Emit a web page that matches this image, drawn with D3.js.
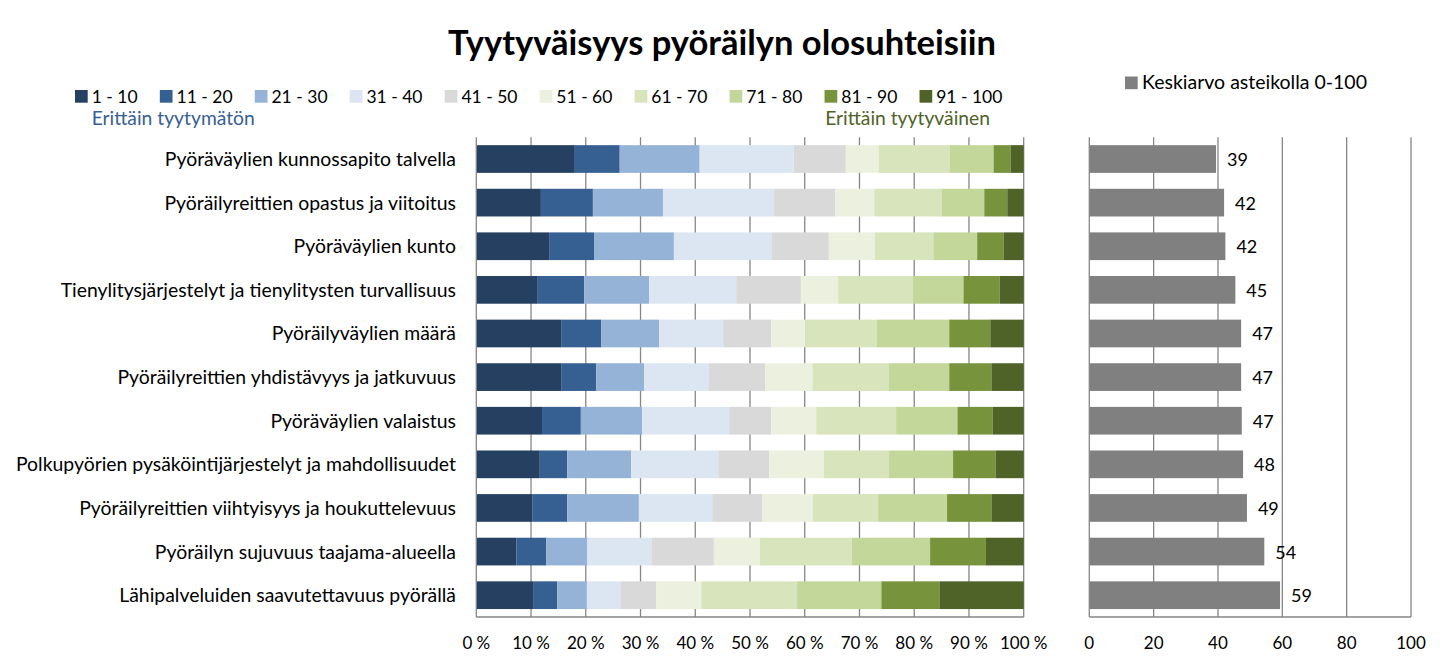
<!DOCTYPE html>
<html><head><meta charset="utf-8">
<script src="https://cdn.jsdelivr.net/npm/d3@7/dist/d3.min.js"></script>
<style>body{margin:0;background:#fff}svg{display:block}text{font-family:Lato,"Open Sans",sans-serif}</style>
</head><body><svg id="c" width="1440" height="670"></svg>
<script>
const categories = [
 "Pyöräväylien kunnossapito talvella",
 "Pyöräilyreittien opastus ja viitoitus",
 "Pyöräväylien kunto",
 "Tienylitysjärjestelyt ja tienylitysten turvallisuus",
 "Pyöräilyväylien määrä",
 "Pyöräilyreittien yhdistävyys ja jatkuvuus",
 "Pyöräväylien valaistus",
 "Polkupyörien pysäköintijärjestelyt ja mahdollisuudet",
 "Pyöräilyreittien viihtyisyys ja houkuttelevuus",
 "Pyöräilyn sujuvuus taajama-alueella",
 "Lähipalveluiden saavutettavuus pyörällä"
];
const seriesNames = ["1 - 10","11 - 20","21 - 30","31 - 40","41 - 50","51 - 60","61 - 70","71 - 80","81 - 90","91 - 100"];
const seriesColors = ["#254061","#366092","#95B3D7","#DCE6F2","#D9D9D9","#EBF1DE","#D8E4BC","#C4D79B","#77933C","#4F6228"];
// percent shares per category (rows) for each score band (columns)
const shares = [
 [18.0, 8.2, 14.6, 17.2, 9.5, 6.0, 13.0, 8.0, 3.1, 2.4],
 [11.8, 9.5, 12.8, 20.3, 11.2, 7.1, 12.3, 7.8, 4.2, 3.0],
 [13.3, 8.2, 14.6, 17.9, 10.4, 8.4, 10.7, 8.0, 4.8, 3.7],
 [11.1, 8.6, 11.9, 15.9, 11.8, 6.8, 13.7, 9.2, 6.6, 4.4],
 [15.5, 7.3, 10.6, 11.7, 8.8, 6.2, 13.0, 13.3, 7.5, 6.1],
 [15.5, 6.4, 8.8, 11.8, 10.3, 8.6, 13.9, 11.1, 7.7, 5.9],
 [12.0, 7.1, 11.2, 15.9, 7.7, 8.2, 14.6, 11.2, 6.4, 5.7],
 [11.6, 5.0, 11.7, 15.9, 9.3, 10.0, 11.9, 11.7, 7.8, 5.1],
 [10.2, 6.4, 13.1, 13.4, 9.1, 9.3, 11.9, 12.6, 8.1, 5.9],
 [7.3, 5.5, 7.5, 11.7, 11.4, 8.4, 16.8, 14.3, 10.2, 6.9],
 [10.5, 4.3, 5.4, 6.1, 6.6, 8.2, 17.5, 15.4, 10.6, 15.4]
];
const means = [39.4, 41.9, 42.3, 45.4, 47.2, 47.2, 47.4, 47.8, 49.0, 54.4, 59.3];
const pctTicks = [0,10,20,30,40,50,60,70,80,90,100];
const meanTicks = [0,20,40,60,80,100];
const titleText = "Tyytyväisyys pyöräilyn olosuhteisiin";
const meanLegend = "Keskiarvo asteikolla 0-100";
const lowLabel = "Erittäin tyytymätön";
const highLabel = "Erittäin tyytyväinen";

const svg = d3.select("#c");
const plotTop = 137.2, plotBottom = 617;
const x = d3.scaleLinear().domain([0,100]).range([476.3,1023.7]);
const x2 = d3.scaleLinear().domain([0,100]).range([1089.3,1411]);
const y = d3.scaleBand().domain(categories).range([plotTop,plotBottom]).paddingInner(0.365).paddingOuter(0.1825);
const grid = "#868686";

// title
svg.append("text").attr("x",722).attr("y",55).attr("text-anchor","middle")
 .attr("font-size",34.5).attr("font-weight","bold").attr("fill","#000").text(titleText);

// gridlines left
svg.append("g").selectAll("line").data(pctTicks.slice(1)).join("line")
 .attr("x1",d=>x(d)).attr("x2",d=>x(d)).attr("y1",plotTop).attr("y2",plotBottom)
 .attr("stroke",grid).attr("stroke-width",1.3);
// stacked bars
const stack = d3.stack().keys(d3.range(seriesNames.length)).value((row,k)=>row[k]);
const layers = stack(shares);
svg.append("g").selectAll("g").data(layers).join("g")
 .attr("fill",(d,i)=>seriesColors[i])
 .selectAll("rect").data(d=>d.map((v,j)=>({v,j}))).join("rect")
 .attr("x",d=>x(d.v[0])).attr("width",d=>x(d.v[1])-x(d.v[0]))
 .attr("y",d=>y(categories[d.j])).attr("height",y.bandwidth());
// axes left
svg.append("line").attr("x1",x(0)).attr("x2",x(0)).attr("y1",plotTop).attr("y2",plotBottom).attr("stroke",grid).attr("stroke-width",1.3);
svg.append("line").attr("x1",x(0)).attr("x2",x(100)).attr("y1",plotBottom).attr("y2",plotBottom).attr("stroke",grid).attr("stroke-width",1.3);
svg.append("g").selectAll("text").data(pctTicks).join("text")
 .attr("x",d=>x(d)).attr("y",649).attr("text-anchor","middle").attr("font-size",17).attr("fill","#000")
 .text(d=>d+" %");
// category labels
svg.append("g").selectAll("text").data(categories).join("text")
 .attr("x",456).attr("y",d=>y(d)+y.bandwidth()/2+7).attr("text-anchor","end")
 .attr("font-size",19.4).attr("fill","#000").text(d=>d);

// legend (items laid out by measured text width)
let lx = 75;
seriesNames.forEach((name,i)=>{
  const g = svg.append("g").attr("transform",`translate(${lx},90)`);
  g.append("rect").attr("width",12.7).attr("height",12.7).attr("fill",seriesColors[i]);
  const t = g.append("text").attr("x",16.7).attr("y",12.7).attr("font-size",17.5).attr("fill","#000").text(name);
  lx += 16.7 + t.node().getComputedTextLength() + 22.2;
});
svg.append("text").attr("x",91.7).attr("y",125).attr("font-size",19.3).attr("fill","#366092").text(lowLabel);
svg.append("text").attr("x",990).attr("y",125).attr("text-anchor","end").attr("font-size",19.3).attr("fill","#4F6228").text(highLabel);

// right chart
svg.append("g").selectAll("line").data(meanTicks.slice(1)).join("line")
 .attr("x1",d=>x2(d)).attr("x2",d=>x2(d)).attr("y1",plotTop).attr("y2",plotBottom)
 .attr("stroke",grid).attr("stroke-width",1.3);
svg.append("g").selectAll("rect").data(means).join("rect")
 .attr("x",x2(0)).attr("width",d=>x2(d)-x2(0))
 .attr("y",(d,i)=>y(categories[i])).attr("height",y.bandwidth()).attr("fill","#808080");
svg.append("line").attr("x1",x2(0)).attr("x2",x2(0)).attr("y1",plotTop).attr("y2",plotBottom).attr("stroke",grid).attr("stroke-width",1.3);
svg.append("line").attr("x1",x2(0)).attr("x2",x2(100)).attr("y1",plotBottom).attr("y2",plotBottom).attr("stroke",grid).attr("stroke-width",1.3);
svg.append("g").selectAll("text").data(means).join("text")
 .attr("x",d=>x2(d)+11).attr("y",(d,i)=>y(categories[i])+y.bandwidth()/2+7)
 .attr("font-size",18).attr("fill","#000").text(d=>Math.round(d));
svg.append("g").selectAll("text").data(meanTicks).join("text")
 .attr("x",d=>x2(d)).attr("y",649).attr("text-anchor","middle").attr("font-size",17).attr("fill","#000").text(d=>d);
// right legend
svg.append("rect").attr("x",1125).attr("y",76.5).attr("width",12.7).attr("height",12.7).attr("fill","#808080");
svg.append("text").attr("x",1142).attr("y",89).attr("font-size",19.5).attr("fill","#000").text(meanLegend);
</script></body></html>
